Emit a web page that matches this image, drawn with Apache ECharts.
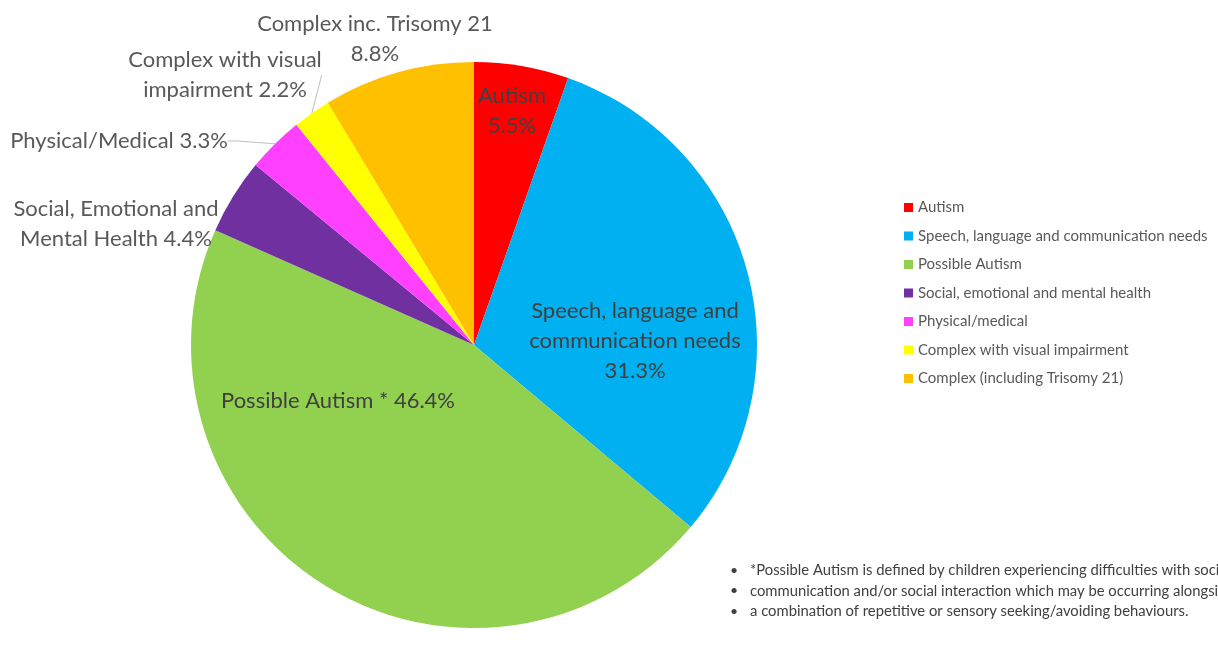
<!DOCTYPE html>
<html>
<head>
<meta charset="utf-8">
<script src="https://cdn.jsdelivr.net/npm/echarts@6/dist/echarts.min.js"></script>
<style>
  html, body { margin: 0; padding: 0; background: #fff; }
  #chart { width: 1218px; height: 648px; }
</style>
</head>
<body>
<div id="chart"></div>
<script>
// categories as they appear in the legend
const categories = [
  'Autism',
  'Speech, language and communication needs',
  'Possible Autism',
  'Social, emotional and mental health',
  'Physical/medical',
  'Complex with visual impairment',
  'Complex (including Trisomy 21)'
]
// percentages printed on the slices
const shares = [5.5, 31.3, 46.4, 4.4, 3.3, 2.2, 8.8]
// slice label text
const sliceLabels = [
  'Autism\n5.5%',
  'Speech, language and\ncommunication needs\n31.3%',
  'Possible Autism * 46.4%',
  'Social, Emotional and\nMental Health 4.4%',
  'Physical/Medical 3.3%',
  'Complex with visual\nimpairment 2.2%',
  'Complex inc. Trisomy 21\n8.8%'
]
const colors = ['#FF0000', '#00B0F0', '#92D050', '#7030A0', '#FF40FF', '#FFFF00', '#FFC000']
const footnotes = [
  '*Possible Autism is defined by children experiencing difficulties with social',
  'communication and/or social interaction which may be occurring alongside',
  'a combination of repetitive or sensory seeking/avoiding behaviours.'
]

// where each label sits (label centre)
const labelSpots = [
  [512, 111], [635, 341], [338, 401], [116, 224], [119, 141], [225, 75], [375, 39]
]
const inside = [true, true, true, false, false, false, false]
const showLine = [false, false, false, false, true, true, false]

const font = 'Lato, "Open Sans", sans-serif'

const chart = echarts.init(document.getElementById('chart'))

const option = {
  backgroundColor: '#fff',
  color: colors,
  animation: false,
  legend: {
    orient: 'vertical',
    left: 899,
    top: 195,
    icon: 'rect',
    itemWidth: 9,
    itemHeight: 9,
    itemGap: 13.5,
    textStyle: { color: '#595959', fontSize: 15, fontFamily: font },
    data: categories
  },
  series: [
    {
      type: 'pie',
      center: [474, 345],
      radius: 283,
      startAngle: 90,
      clockwise: true,
      silent: true,
      label: {
        fontFamily: font,
        fontSize: 22,
        lineHeight: 30,
        color: '#595959',
        align: 'center',
        overflow: 'none'
      },
      labelLine: {
        length: 10,
        length2: 10,
        lineStyle: { color: '#bfbfbf', width: 1 }
      },
      labelLayout: p => ({
        x: labelSpots[p.dataIndex][0],
        y: labelSpots[p.dataIndex][1],
        align: 'center',
        verticalAlign: 'middle'
      }),
      data: categories.map((name, i) => ({
        name,
        value: shares[i],
        label: {
          formatter: sliceLabels[i],
          position: inside[i] ? 'inside' : 'outside',
          color: inside[i] ? '#404040' : '#595959',
          overflow: 'none'
        },
        labelLine: { show: showLine[i] }
      }))
    }
  ],
  graphic: footnotes.flatMap((t, i) => [
    {
      type: 'text',
      x: 730,
      y: 563 + i * 20.5,
      style: { text: '•', fontSize: 14, fill: '#404040', fontFamily: font }
    },
    {
      type: 'text',
      x: 750,
      y: 563 + i * 20.5,
      style: { text: t, fontSize: 14.8, fill: '#404040', fontFamily: font }
    }
  ])
}

chart.setOption(option)
</script>
</body>
</html>
